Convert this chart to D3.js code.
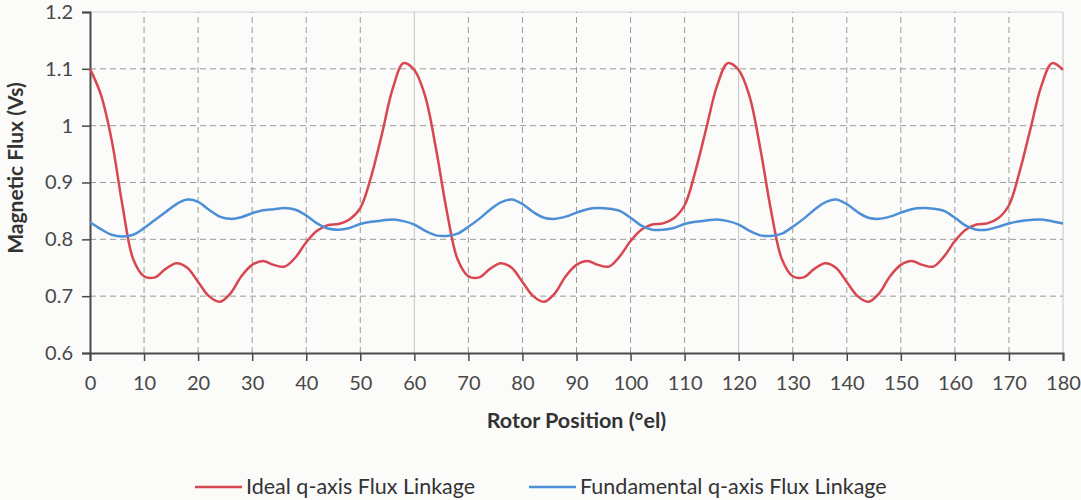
<!DOCTYPE html>
<html>
<head>
<meta charset="utf-8">
<script src="https://cdn.jsdelivr.net/npm/d3@7"></script>
<style>
  body { margin: 0; background: #fbfbfa; }
  svg { display: block; font-family: Lato, "Open Sans", sans-serif; }
</style>
</head>
<body>
<svg id="chart" width="1081" height="500"></svg>
<script>
// rotor position (deg el), 2 degree steps
var positions = d3.range(0, 181, 2);

// ideal q-axis flux linkage (Vs)
var idealFlux = [
  1.100, 1.055, 0.975, 0.860, 0.765, 0.735, 0.733, 0.748, 0.758, 0.750,
  0.725, 0.700, 0.690, 0.705, 0.735, 0.755, 0.762, 0.755, 0.752, 0.768,
  0.795, 0.815, 0.825, 0.827, 0.835, 0.855, 0.910, 0.985, 1.065, 1.110,
  1.098, 1.052, 0.960, 0.850, 0.765, 0.735, 0.733, 0.748, 0.758, 0.750,
  0.725, 0.700, 0.690, 0.705, 0.735, 0.755, 0.762, 0.755, 0.752, 0.770,
  0.797, 0.817, 0.826, 0.828, 0.837, 0.860, 0.920, 0.995, 1.070, 1.110,
  1.098, 1.052, 0.960, 0.850, 0.765, 0.735, 0.733, 0.748, 0.758, 0.750,
  0.725, 0.700, 0.690, 0.705, 0.735, 0.755, 0.762, 0.755, 0.752, 0.770,
  0.797, 0.817, 0.826, 0.828, 0.837, 0.860, 0.920, 0.995, 1.070, 1.110,
  1.098
];

// fundamental q-axis flux linkage (Vs)
var fundFlux = [
  0.830, 0.818, 0.808, 0.805, 0.808, 0.820, 0.834, 0.848, 0.862, 0.870,
  0.866, 0.852, 0.840, 0.836, 0.839, 0.846, 0.851, 0.853, 0.855, 0.852,
  0.842, 0.828, 0.819, 0.817, 0.820, 0.827, 0.831, 0.833, 0.835, 0.832,
  0.826, 0.815, 0.807, 0.806, 0.810, 0.822, 0.836, 0.852, 0.865, 0.870,
  0.862, 0.848, 0.838, 0.836, 0.840, 0.847, 0.853, 0.855, 0.854, 0.850,
  0.838, 0.824, 0.817, 0.817, 0.820, 0.827, 0.831, 0.833, 0.835, 0.832,
  0.826, 0.815, 0.807, 0.806, 0.810, 0.822, 0.836, 0.852, 0.865, 0.870,
  0.862, 0.848, 0.838, 0.836, 0.840, 0.847, 0.853, 0.855, 0.854, 0.850,
  0.838, 0.824, 0.817, 0.817, 0.822, 0.828, 0.832, 0.834, 0.835, 0.832,
  0.828
];

var xTicks = d3.range(0, 181, 10);
var yTicks = [0.6, 0.7, 0.8, 0.9, 1, 1.1, 1.2];

var seriesNames = ["Ideal q-axis Flux Linkage", "Fundamental q-axis Flux Linkage"];
var seriesColors = ["#d8464f", "#4d8fd6"];

var margin = {left: 90, right: 18, top: 12, bottom: 147};
var W = 1081, H = 500;
var svg = d3.select("#chart");

var x = d3.scaleLinear().domain([0, 180]).range([margin.left, W - margin.right]);
var y = d3.scaleLinear().domain([0.6, 1.2]).range([H - margin.bottom, margin.top]);

// grid
var grid = svg.append("g");
grid.selectAll("line.h").data(yTicks.filter(function(d){ return d > 0.6; })).enter()
  .append("line").attr("class", "h")
  .attr("x1", x(0)).attr("x2", x(180))
  .attr("y1", function(d){ return y(d); }).attr("y2", function(d){ return y(d); })
  .attr("stroke", function(d){ return d === 1.2 ? "#d4d4d4" : "#9a9a9a"; })
  .attr("stroke-width", 1)
  .attr("stroke-dasharray", function(d){ return d === 1.2 ? null : "6,4"; });
grid.selectAll("line.v").data(xTicks.filter(function(d){ return d > 0; })).enter()
  .append("line").attr("class", "v")
  .attr("y1", y(0.6)).attr("y2", y(1.2))
  .attr("x1", function(d){ return x(d); }).attr("x2", function(d){ return x(d); })
  .attr("stroke", function(d){ return d % 60 === 0 ? "#c4c4c4" : "#9a9a9a"; })
  .attr("stroke-width", 1)
  .attr("stroke-dasharray", function(d){ return d % 60 === 0 ? null : "6,4"; });

// axes
var xAxis = svg.append("g").attr("transform", "translate(0," + y(0.6) + ")")
  .call(d3.axisBottom(x).tickValues(xTicks).tickSize(8).tickPadding(15).tickFormat(d3.format("d")));
var yAxis = svg.append("g").attr("transform", "translate(" + x(0) + ",0)")
  .call(d3.axisLeft(y).tickValues(yTicks).tickSize(8).tickPadding(9).tickFormat(function(d){ return d === 1 ? "1" : d3.format(".1f")(d); }));
[xAxis, yAxis].forEach(function(a){
  a.select(".domain").attr("stroke", "#4a4a4a").attr("stroke-width", 2);
  a.selectAll(".tick line").attr("stroke", "#4a4a4a").attr("stroke-width", 1.5);
  a.selectAll(".tick text").attr("fill", "#484848").style("font-size", "20px").style("font-family", "Lato, sans-serif");
});

// lines
var line = d3.line().curve(d3.curveCatmullRom.alpha(0.5))
  .x(function(d){ return x(d[0]); }).y(function(d){ return y(d[1]); });
[idealFlux, fundFlux].forEach(function(vals, i){
  svg.append("path")
    .datum(positions.map(function(p, j){ return [p, vals[j]]; }))
    .attr("fill", "none")
    .attr("stroke", seriesColors[i])
    .attr("stroke-width", 2.5)
    .attr("d", line);
});

// axis titles
svg.append("text").attr("x", (x(0) + x(180)) / 2).attr("y", 428)
  .attr("text-anchor", "middle").attr("font-weight", "bold").attr("font-size", 21.5).attr("fill", "#333")
  .text("Rotor Position (°el)");
svg.append("text").attr("transform", "translate(23,168) rotate(-90)")
  .attr("text-anchor", "middle").attr("font-weight", "bold").attr("font-size", 21).attr("fill", "#333")
  .text("Magnetic Flux (Vs)");

// legend
var legX = [195, 529];
var leg = svg.selectAll("g.leg").data(seriesNames).enter().append("g").attr("class", "leg")
  .attr("transform", function(d, i){ return "translate(" + legX[i] + ",487)"; });
leg.append("line").attr("x1", 0).attr("x2", 47).attr("y1", 0).attr("y2", 0)
  .attr("stroke", function(d, i){ return seriesColors[i]; }).attr("stroke-width", 2.5);
leg.append("text").attr("x", 51).attr("y", 7).attr("font-size", 21.5).attr("fill", "#333")
  .text(function(d){ return d; });
</script>
</body>
</html>
